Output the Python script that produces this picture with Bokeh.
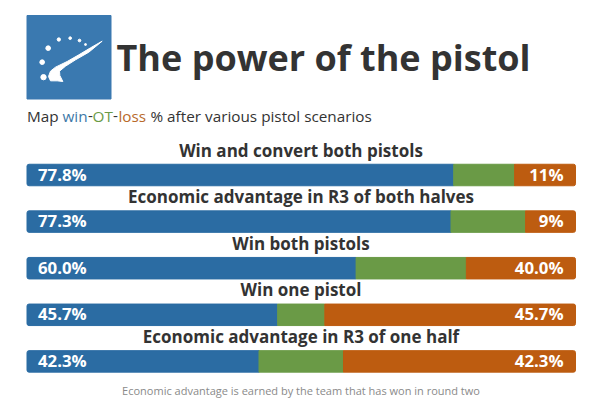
from bokeh.plotting import figure
from bokeh.models import Range1d
from bokeh.core.properties import value
from bokeh.embed import file_html
from bokeh.resources import INLINE

scenarios = ["Win and convert both pistols", "Economic advantage in R3 of both halves",
             "Win both pistols", "Win one pistol", "Economic advantage in R3 of one half"]
win = [77.8, 77.3, 60.0, 45.7, 42.3]
ot = [11.1, 13.6, 20.1, 8.6, 15.4]
loss = [11.1, 9.1, 19.9, 45.7, 42.3]
win_labels = ["77.8%", "77.3%", "60.0%", "45.7%", "42.3%"]
loss_labels = ["11%", "9%", "40.0%", "45.7%", "42.3%"]

BLUE, GREEN, ORANGE, INK = "#2b6ca3", "#6a9a46", "#bd5c10", "#333333"
FONT = value("Open Sans")
W, H = 600, 404
PX_PER_PCT = 5.485
PX_PER_ROW = 46.6
x0, y0 = 26.5, 174.5  # plot px of 0 % and row 0 centre

p = figure(width=W, height=H, output_backend="svg", toolbar_location=None, min_border=0,
           x_range=Range1d(-x0 / PX_PER_PCT, (W - x0) / PX_PER_PCT),
           y_range=Range1d((H - y0) / PX_PER_ROW, -y0 / PX_PER_ROW),
           x_axis_type=None, y_axis_type=None, outline_line_color=None)
p.grid.visible = False
p.background_fill_color = "white"
p.border_fill_color = "white"

p.extra_x_ranges["px"] = Range1d(0, W)
p.extra_y_ranges["px"] = Range1d(H, 0)

rows = list(range(len(scenarios)))
lefts2 = [a + b for a, b in zip(win, ot)]
ends = [a + b + c for a, b, c in zip(win, ot, loss)]
bar_h = 21.5 / PX_PER_ROW
p.hbar(y=rows, left=[0] * 5, right=win, height=bar_h, color=BLUE, border_radius=(2, 0, 0, 2))
p.hbar(y=rows, left=win, right=lefts2, height=bar_h, color=GREEN)
p.hbar(y=rows, left=lefts2, right=ends, height=bar_h, color=ORANGE, border_radius=(0, 2, 2, 0))

def t(x, y, s, size, color=INK, style="normal", align="left"):
    p.text(x=[x], y=[y - 0.44 * size], text=[s], text_font=FONT, text_font_size=f"{size}px", text_color=color,
           text_font_style=style, text_align=align, text_baseline="alphabetic",
           x_range_name="px", y_range_name="px")

for i, s in enumerate(scenarios):
    base = 157 + i * PX_PER_ROW
    t(300.5, base, s, 17, style="bold", align="center")
    vb = 181 + i * PX_PER_ROW
    t(37.5, vb, win_labels[i], 16.8, "white", "bold")
    t(563, vb, loss_labels[i], 16.8, "white", "bold", "right")

t(116, 72.5, "The power of the pistol", 36, style="bold")
t(300.5, 395, "Economic advantage is earned by the team that has won in round two", 11, "#8a8a8a", align="center")

for x, s, c in [(26.5, "Map", INK), (62, "win", "#3c78a8"), (87.5, "-", INK), (92, "OT", "#6a9a46"),
                (112.5, "-", INK), (118, "loss", "#b8692a"), (150, "% after various pistol scenarios", INK)]:
    t(x, 122, s, 15.3, c)

# logo
p.quad(left=[26.5], right=[110.5], top=[15], bottom=[98.5], color="#3a79b0",
       x_range_name="px", y_range_name="px")
sw = [(305, 122), (270, 142), (235, 163), (200, 183), (165, 200), (150, 212), (144, 228), (150, 241),
      (170, 241), (187, 243), (178, 225), (177, 212), (195, 197), (225, 178), (265, 155)]
p.patch([a / 3 for a, _ in sw], [b / 3 for _, b in sw], color="white", x_range_name="px", y_range_name="px")
dots = [(129, 230, 8), (125, 185, 7), (143, 143, 7), (175, 117, 5), (209, 113, 4), (237, 120, 4), (255, 132, 3)]
p.scatter([d[0] / 3 for d in dots], [d[1] / 3 for d in dots], size=[d[2] * 2 / 3 for d in dots],
          color="white", x_range_name="px", y_range_name="px")

open("out.html", "w").write(file_html(p, INLINE))
